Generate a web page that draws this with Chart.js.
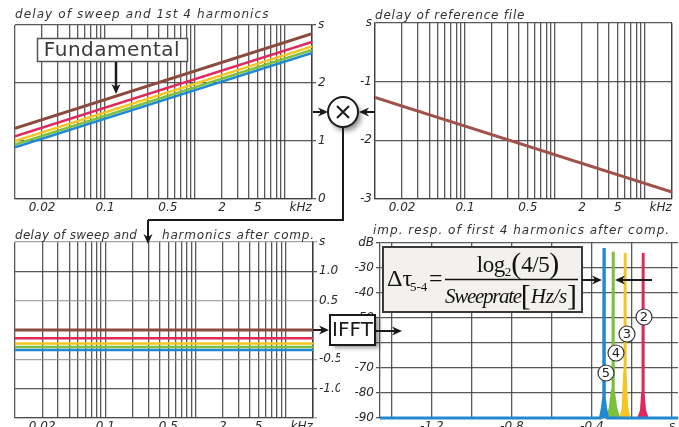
<!DOCTYPE html>
<html>
<head>
<meta charset="utf-8">
<script src="https://cdn.jsdelivr.net/npm/chart.js@4.4.0/dist/chart.umd.min.js"></script>
<style>
  html, body { margin: 0; padding: 0; background: #fff; }
  #page { position: relative; width: 679px; height: 427px; overflow: hidden; background: #fff; }
  #page canvas { position: absolute; }
</style>
</head>
<body>
<div id="page">
  <canvas id="sweepDelay" width="340" height="215" style="left:0;top:0"></canvas>
  <canvas id="refDelay" width="339" height="215" style="left:340px;top:0"></canvas>
  <canvas id="compDelay" width="340" height="219" style="left:0;top:215px"></canvas>
  <canvas id="impResp" width="345" height="219" style="left:340px;top:215px"></canvas>
  <canvas id="notes" width="679" height="427" style="left:0;top:0"></canvas>
</div>
<script>
'use strict';

// Frequency axis of the delay plots (kHz)
var freqMin = 0.01;
var freqMax = 20;
var freqLabelValues = [0.02, 0.1, 0.5, 2, 5];
var freqLabelText = ['0.02', '0.1', '0.5', '2', '5'];
var freqUnitAt = 15;

// Fundamental + harmonics 2..5
var harmonicNames = ['1', '2', '3', '4', '5'];
var harmonicColors = ['#8a4a3c', '#e0285c', '#f4c623', '#7cc03c', '#2089d2'];

// Delay of the sweep (s) at 10 Hz and at 20 kHz
var sweepDelayStart = [1.22, 1.08, 1.00, 0.94, 0.89];
var sweepDelayEnd = [2.85, 2.71, 2.63, 2.57, 2.52];
var sweepTicks = [0, 1, 2, 3];
var sweepTickText = ['0', '1', '2', 's'];

// Delay of the reference file (s) at 10 Hz and at 20 kHz
var refDelay = [-1.27, -2.88];
var refTicks = [-3, -2, -1, 0];
var refTickText = ['-3', '-2', '-1', 's'];

// Delay after compensation (s), flat over frequency
var compDelay = [0.00, -0.14, -0.23, -0.29, -0.34];
var compTicks = [-1.5, -1, -0.5, 0, 0.5, 1, 1.5];
var compTickText = ['', '-1.0', '-0.5', '', '0.5', '1.0', 's'];

// Impulse responses after compensation: time (s) / level (dB)
var irTime2 = [-0.167, -0.154, -0.148, -0.146, -0.145, -0.144, -0.142, -0.136, -0.123];
var irLevel2 = [-90, -87, -80, -50, -24, -50, -80, -87, -90];
var irTime3 = [-0.257, -0.245, -0.238, -0.236, -0.235, -0.234, -0.232, -0.225, -0.213];
var irLevel3 = [-90, -86, -72, -45, -24, -45, -72, -86, -90];
var irTime4 = [-0.325, -0.310, -0.299, -0.296, -0.295, -0.294, -0.291, -0.280, -0.265];
var irLevel4 = [-90, -86, -79, -50, -23.5, -50, -79, -86, -90];
var irTime5 = [-1.46, -0.358, -0.348, -0.342, -0.341, -0.340, -0.339, -0.338, -0.332, -0.322, 0.03];
var irLevel5 = [-90, -90, -86, -82, -50, -22, -50, -82, -86, -90, -90];
var irTimeMin = -1.46;
var irTimeMax = 0.03;
var irTimeTicks = [-1.4, -1.2, -1.0, -0.8, -0.6, -0.4, -0.2, 0];
var irTimeText = ['', '-1.2', '', '-0.8', '', '-0.4', '', 's'];
var irLevelTicks = [-90, -80, -70, -60, -50, -40, -30, -20];
var irLevelText = ['-90', '-80', '-70', '-60', '-50', '-40', '-30', 'dB'];

var tickFont = { family: 'DejaVu Sans', size: 12, style: 'italic' };
var tickColor = '#2a2a2a';
var gridDark = 'rgba(60,60,60,0.85)';

// grid lines at every 1..9 x decade
var freqGrid = [];
for (var d = 0.01; d < freqMax; d *= 10) {
  for (var s = 1; s < 10; s++) {
    var f = Number((s * d).toPrecision(6));
    if (f <= freqMax) freqGrid.push(f);
  }
}
freqGrid.push(freqMax);
var freqTicks = freqGrid.concat([freqUnitAt]).sort(function (a, b) { return a - b; });

function setTicks(values) {
  return function (scale) {
    scale.ticks = values.map(function (v) { return { value: v }; });
  };
}

function labelFrom(values, text) {
  return function (value) {
    for (var i = 0; i < values.length; i++) {
      if (Math.abs(values[i] - value) < 1e-9) return text[i];
    }
    return '';
  };
}

function fixWidth(w) { return function (scale) { scale.width = w; }; }
function fixHeight(h) { return function (scale) { scale.height = h; }; }

function freqAxis() {
  return {
    type: 'logarithmic',
    min: freqMin,
    max: freqMax,
    afterBuildTicks: setTicks(freqTicks),
    afterFit: fixHeight(16),
    grid: {
      drawTicks: false,
      lineWidth: 1.3,
      color: function (c) {
        return c.tick && c.tick.value === freqUnitAt ? 'rgba(0,0,0,0)' : gridDark;
      }
    },
    border: { display: true, color: gridDark, width: 1.3 },
    ticks: {
      autoSkip: false,
      maxRotation: 0,
      padding: 2,
      font: tickFont,
      color: tickColor,
      callback: labelFrom(freqLabelValues.concat([freqUnitAt]), freqLabelText.concat(['kHz']))
    }
  };
}

function valueAxis(min, max, values, text, position, width, gridColor) {
  return {
    type: 'linear',
    position: position,
    min: min,
    max: max,
    afterBuildTicks: setTicks(values),
    afterFit: fixWidth(width),
    grid: { drawTicks: true, tickLength: 4, lineWidth: 1.3, color: gridColor || gridDark },
    border: { display: true, color: gridDark, width: 1.3 },
    ticks: {
      autoSkip: false,
      padding: 2,
      font: tickFont,
      color: tickColor,
      callback: labelFrom(values, text)
    }
  };
}

function baseOptions(padding, scales) {
  return {
    responsive: false,
    animation: false,
    devicePixelRatio: 1,
    layout: { padding: padding },
    plugins: { legend: { display: false }, tooltip: { enabled: false } },
    elements: { point: { radius: 0 }, line: { tension: 0 } },
    scales: scales
  };
}

// delay of sweep and 1st 4 harmonics
var sweepSets = [];
for (var i = harmonicNames.length - 1; i >= 0; i--) {
  sweepSets.push({
    label: harmonicNames[i],
    data: [{ x: freqMin, y: sweepDelayStart[i] }, { x: freqMax, y: sweepDelayEnd[i] }],
    borderColor: harmonicColors[i],
    borderWidth: i === 0 ? 3 : 2.5
  });
}
var sweepChart = new Chart(document.getElementById('sweepDelay'), {
  type: 'line',
  data: { datasets: sweepSets },
  options: baseOptions({ left: 15, top: 25, right: 0, bottom: 0 }, {
    x: freqAxis(),
    y: valueAxis(0, 3, sweepTicks, sweepTickText, 'right', 28)
  })
});

// delay of reference file
var refChart = new Chart(document.getElementById('refDelay'), {
  type: 'line',
  data: {
    datasets: [{
      label: 'reference',
      data: [{ x: freqMin, y: refDelay[0] }, { x: freqMax, y: refDelay[1] }],
      borderColor: '#a0524a',
      borderWidth: 3
    }]
  },
  options: (function () {
    var o = baseOptions({ left: 0, top: 23, right: 7, bottom: 0 }, {
      x: freqAxis(),
      y: valueAxis(-3, 0, refTicks, refTickText, 'left', 35)
    });
    o.scales.y.grid.drawTicks = false;
    o.scales.y.ticks.padding = 3;
    return o;
  })()
});

// delay after compensation
var compSets = [];
for (var k = harmonicNames.length - 1; k >= 0; k--) {
  compSets.push({
    label: harmonicNames[k],
    data: [{ x: freqMin, y: compDelay[k] }, { x: freqMax, y: compDelay[k] }],
    borderColor: harmonicColors[k],
    borderWidth: k === 0 ? 3 : 2.5
  });
}
var compChart = new Chart(document.getElementById('compDelay'), {
  type: 'line',
  data: { datasets: compSets },
  options: baseOptions({ left: 15, top: 27, right: 0, bottom: 0 }, {
    x: freqAxis(),
    y: valueAxis(-1.5, 1.5, compTicks, compTickText, 'right', 27, function (c) {
      return c.tick && Math.abs(c.tick.value % 1) > 0.1 ? 'rgba(150,140,140,0.8)' : gridDark;
    })
  })
});

// impulse responses of harmonics 2..5
function irSet(name, times, levels, color, width) {
  return {
    label: name,
    data: times.map(function (t, j) { return { x: t, y: levels[j] }; }),
    borderColor: color,
    backgroundColor: color,
    borderWidth: width,
    fill: { value: -90 },
    clip: false
  };
}
var irChart = new Chart(document.getElementById('impResp'), {
  type: 'line',
  data: {
    datasets: [
      irSet('5', irTime5, irLevel5, harmonicColors[4], 3),
      irSet('4', irTime4, irLevel4, harmonicColors[3], 2.5),
      irSet('3', irTime3, irLevel3, harmonicColors[2], 2.5),
      irSet('2', irTime2, irLevel2, harmonicColors[1], 2.5)
    ]
  },
  options: (function () {
    var o = baseOptions({ left: 0, top: 28, right: 7, bottom: 0 }, {
      x: {
        type: 'linear',
        min: irTimeMin,
        max: irTimeMax,
        afterBuildTicks: setTicks(irTimeTicks),
        afterFit: fixHeight(16),
        grid: { drawTicks: false, lineWidth: 1.3, color: gridDark },
        border: { display: true, color: gridDark, width: 1.3 },
        ticks: { autoSkip: false, maxRotation: 0, padding: 2, font: tickFont, color: tickColor,
          callback: labelFrom(irTimeTicks, irTimeText) }
      },
      y: valueAxis(-90, -20, irLevelTicks, irLevelText, 'left', 40)
    });
    return o;
  })()
});

// ---- block diagram notes on top ----
var cv = document.getElementById('notes');
var ctx = cv.getContext('2d');

function arrow(x1, y1, x2, y2) {
  var a = Math.atan2(y2 - y1, x2 - x1);
  var head = 10, half = 4.5;
  var bx = x2 - Math.cos(a) * head, by = y2 - Math.sin(a) * head;
  ctx.beginPath();
  ctx.moveTo(x1, y1);
  ctx.lineTo(bx + Math.cos(a) * 3, by + Math.sin(a) * 3);
  ctx.stroke();
  ctx.beginPath();
  ctx.moveTo(x2, y2);
  ctx.lineTo(bx - Math.sin(a) * half, by + Math.cos(a) * half);
  ctx.lineTo(bx + Math.cos(a) * 3, by + Math.sin(a) * 3);
  ctx.lineTo(bx + Math.sin(a) * half, by - Math.cos(a) * half);
  ctx.closePath();
  ctx.fill();
}

// panel titles
ctx.fillStyle = '#333';
ctx.font = 'italic 12px "DejaVu Sans"';
ctx.textBaseline = 'middle';
ctx.textAlign = 'left';
ctx.letterSpacing = '1.1px';
ctx.fillText('delay of sweep and 1st 4 harmonics', 15, 15);
ctx.letterSpacing = '0.8px';
ctx.fillText('delay of reference file', 375, 16);
ctx.letterSpacing = '0.3px';
ctx.fillText('delay of sweep and', 15, 236);
ctx.letterSpacing = '0.8px';
ctx.fillText('harmonics after comp.', 162, 236);
ctx.letterSpacing = '1px';
ctx.fillText('imp. resp. of first 4 harmonics after comp.', 373, 231);
ctx.letterSpacing = '0px';

ctx.strokeStyle = '#1a1a1a';
ctx.fillStyle = '#1a1a1a';
ctx.lineWidth = 2;

// "Fundamental" label
ctx.fillStyle = '#fff';
ctx.fillRect(37, 38, 151, 24);
ctx.strokeStyle = '#555';
ctx.lineWidth = 1.5;
ctx.strokeRect(37.5, 38.5, 150, 23);
ctx.fillStyle = '#3a3a3a';
ctx.font = '20px "DejaVu Sans"';
ctx.letterSpacing = '0.5px';
ctx.textAlign = 'center';
ctx.fillText('Fundamental', 112, 51);
ctx.letterSpacing = '0px';
ctx.strokeStyle = '#1a1a1a';
ctx.fillStyle = '#1a1a1a';
ctx.lineWidth = 2.5;
arrow(116, 62, 116, 94);

// multiplier
ctx.lineWidth = 2;
arrow(313, 112, 328, 112);
arrow(375, 112, 359, 112);
ctx.save();
ctx.shadowColor = 'rgba(0,0,0,0.45)';
ctx.shadowBlur = 5;
ctx.shadowOffsetX = 3;
ctx.shadowOffsetY = 4;
ctx.beginPath();
ctx.arc(343, 112, 15, 0, Math.PI * 2);
ctx.fillStyle = '#fff';
ctx.fill();
ctx.restore();
ctx.beginPath();
ctx.arc(343, 112, 15, 0, Math.PI * 2);
ctx.stroke();
ctx.beginPath();
ctx.moveTo(337, 106); ctx.lineTo(349, 118);
ctx.moveTo(349, 106); ctx.lineTo(337, 118);
ctx.stroke();
ctx.beginPath();
ctx.moveTo(343, 127);
ctx.lineTo(343, 220);
ctx.lineTo(148, 220);
ctx.stroke();
arrow(148, 220, 148, 244);

// IFFT block
arrow(313, 330, 329, 330);
ctx.save();
ctx.shadowColor = 'rgba(0,0,0,0.4)';
ctx.shadowBlur = 4;
ctx.shadowOffsetX = 4;
ctx.shadowOffsetY = 3;
ctx.fillStyle = '#fff';
ctx.fillRect(330, 315, 45, 30);
ctx.restore();
ctx.strokeRect(330, 315, 45, 30);
ctx.fillStyle = '#1a1a1a';
ctx.font = '20px "DejaVu Sans"';
ctx.textAlign = 'center';
ctx.fillText('IFFT', 352.5, 331);
arrow(375, 331, 402, 331);

// delay formula
ctx.fillStyle = '#f3f1ee';
ctx.fillRect(383, 247, 199, 65);
ctx.strokeStyle = '#3a3a3a';
ctx.strokeRect(383, 247, 199, 65);
ctx.fillStyle = '#111';
ctx.strokeStyle = '#111';
ctx.textAlign = 'left';
ctx.textBaseline = 'alphabetic';
ctx.font = '24px "Liberation Serif"';
ctx.fillText('\u0394\u03c4', 387, 286);
ctx.font = '13px "Liberation Serif"';
ctx.fillText('5-4', 410, 291);
ctx.font = '24px "Liberation Serif"';
ctx.fillText('=', 429, 286);
ctx.lineWidth = 1.5;
ctx.beginPath();
ctx.moveTo(445, 279.5);
ctx.lineTo(578, 279.5);
ctx.stroke();

function seq(parts, cx, y) {
  var total = 0;
  parts.forEach(function (p) {
    ctx.font = p[1];
    ctx.letterSpacing = p[3] || '0px';
    total += ctx.measureText(p[0]).width;
  });
  var x = cx - total / 2;
  parts.forEach(function (p) {
    ctx.font = p[1];
    ctx.letterSpacing = p[3] || '0px';
    ctx.fillText(p[0], x, y + (p[2] || 0));
    x += ctx.measureText(p[0]).width;
  });
  ctx.letterSpacing = '0px';
}
seq([
  ['log', '23px "Liberation Serif"', 0, '-0.5px'],
  ['2', '13px "Liberation Serif"', 4],
  ['(', '30px "Liberation Serif"', 1],
  ['4/5', '23px "Liberation Serif"', 0, '-0.5px'],
  [')', '30px "Liberation Serif"', 1]
], 518, 272);
seq([
  ['Sweeprate', 'italic 21px "Liberation Serif"', 0, '-1.3px'],
  ['[', '30px "Liberation Serif"', 2],
  ['Hz/s', 'italic 21px "Liberation Serif"', 0, '-0.3px'],
  [']', '30px "Liberation Serif"', 2]
], 511, 303);

// arrows marking the 5-4 delay
var xs = irChart.scales.x;
var bluePx = 340 + xs.getPixelForValue(irTime5[5]);
var greenPx = 340 + xs.getPixelForValue(irTime4[4]);
ctx.fillStyle = '#1a1a1a';
ctx.strokeStyle = '#1a1a1a';
ctx.lineWidth = 2;
arrow(582, 280, bluePx - 2, 280);
arrow(652, 280, greenPx + 2, 280);

// harmonic numbers
var circled = [['2', 644, 317], ['3', 627, 334], ['4', 616, 353], ['5', 606, 373]];
ctx.font = '13px "DejaVu Sans"';
ctx.textAlign = 'center';
ctx.textBaseline = 'middle';
ctx.lineWidth = 1.2;
circled.forEach(function (c) {
  ctx.beginPath();
  ctx.arc(c[1], c[2], 8, 0, Math.PI * 2);
  ctx.fillStyle = '#fff';
  ctx.fill();
  ctx.strokeStyle = '#333';
  ctx.stroke();
  ctx.fillStyle = '#222';
  ctx.fillText(c[0], c[1], c[2] + 1);
});
</script>
</body>
</html>
